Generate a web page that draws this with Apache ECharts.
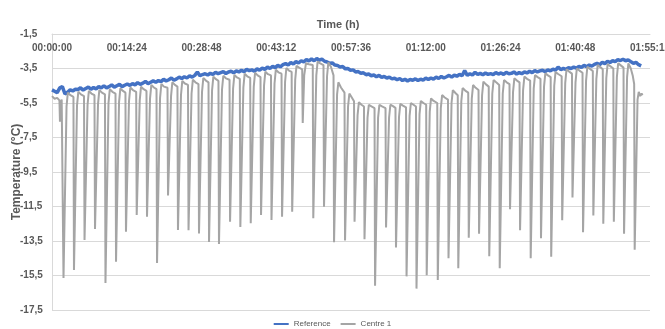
<!DOCTYPE html>
<html>
<head>
<meta charset="utf-8">
<script src="https://cdn.jsdelivr.net/npm/echarts@6/dist/echarts.min.js"></script>
<style>
html,body{margin:0;padding:0;background:#fff;}
#chart{width:665px;height:329px;}
</style>
</head>
<body>
<div id="chart"></div>
<script>
// X axis (seconds) ticks: 00:00:00 .. 01:55:12 every 00:14:24
const xMinSeconds = 0;
const xMaxSeconds = 6912;
const xTickSeconds = 864;
const yTickLabels = [-17.5, -15.5, -13.5, -11.5, -9.5, -7.5, -5.5, -3.5, -1.5];
const seriesNames = ['Reference', 'Centre 1'];

// Reference: one reading every 30 s from 0 s
const refStepSeconds = 30;
const refTemps = [
  -4.74,-4.82,-4.90,-4.62,-4.55,-4.98,-4.88,-4.74,-4.80,-4.70,
  -4.72,-4.62,-4.75,-4.66,-4.58,-4.70,-4.60,-4.68,-4.55,-4.62,
  -4.50,-4.62,-4.55,-4.45,-4.58,-4.50,-4.42,-4.55,-4.47,-4.40,
  -4.48,-4.38,-4.45,-4.32,-4.42,-4.35,-4.25,-4.38,-4.30,-4.22,
  -4.30,-4.20,-4.26,-4.12,-4.22,-4.15,-4.05,-4.18,-4.10,-4.00,
  -4.08,-3.98,-4.05,-3.92,-4.00,-3.90,-3.70,-3.92,-3.85,-3.80,
  -3.88,-3.78,-3.85,-3.72,-3.80,-3.74,-3.68,-3.79,-3.70,-3.66,
  -3.75,-3.64,-3.70,-3.60,-3.68,-3.55,-3.62,-3.58,-3.66,-3.52,
  -3.60,-3.48,-3.55,-3.42,-3.50,-3.38,-3.45,-3.32,-3.40,-3.28,
  -3.22,-3.30,-3.15,-3.24,-3.10,-3.18,-3.05,-3.12,-2.98,-3.06,
  -2.95,-3.05,-2.92,-3.02,-2.96,-3.08,-3.12,-3.20,-3.18,-3.30,
  -3.32,-3.42,-3.38,-3.52,-3.50,-3.60,-3.58,-3.70,-3.68,-3.78,
  -3.75,-3.86,-3.82,-3.92,-3.88,-3.98,-3.90,-4.02,-3.96,-4.05,
  -4.00,-4.10,-4.06,-4.15,-4.08,-4.20,-4.12,-4.22,-4.14,-4.18,
  -4.10,-4.20,-4.12,-4.18,-4.06,-4.14,-4.05,-4.12,-4.00,-4.08,
  -3.96,-4.05,-3.98,-3.90,-4.00,-3.88,-3.95,-3.84,-3.92,-3.62,
  -3.90,-3.80,-3.88,-3.72,-3.85,-3.78,-3.86,-3.76,-3.84,-3.80,
  -3.85,-3.74,-3.82,-3.76,-3.84,-3.72,-3.80,-3.78,-3.70,-3.82,
  -3.74,-3.80,-3.70,-3.76,-3.66,-3.74,-3.62,-3.70,-3.64,-3.60,
  -3.68,-3.58,-3.64,-3.54,-3.60,-3.42,-3.56,-3.50,-3.55,-3.46,
  -3.50,-3.42,-3.48,-3.38,-3.44,-3.32,-3.40,-3.30,-3.36,-3.26,
  -3.20,-3.28,-3.14,-3.22,-3.08,-3.15,-3.05,-3.10,-2.98,-3.04,
  -2.96,-3.05,-3.00,-3.10,-3.20,-3.14,-3.28,-3.35
];

// Centre 1: readings (seconds, °C), one line per cooling cycle
const centreTimes = [
  0,30,60,86,92,100,112,127,
  133,168,183,213,248,
  254,289,304,334,370,
  376,411,426,456,491,
  497,532,547,577,612,
  618,653,668,698,734,
  740,775,790,820,849,
  855,890,905,935,973,
  979,1014,1029,1059,1092,
  1098,1133,1148,1178,1208,
  1214,1249,1264,1294,1335,
  1341,1376,1391,1421,1450,
  1456,1491,1506,1536,1572,
  1578,1613,1628,1658,1693,
  1699,1734,1749,1779,1809,
  1815,1850,1865,1895,1924,
  1930,1965,1980,2010,2052,
  2058,2093,2108,2138,2171,
  2177,2212,2227,2257,2291,
  2297,2332,2347,2377,2410,
  2416,2451,2466,2496,2531,
  2537,2572,2587,2617,2653,
  2659,2694,2709,2739,2770,
  2776,2811,2826,2856,2892,
  2898,2915,2935,2970,3014,
  3020,3055,3070,3100,3138,
  3144,3179,3194,3224,3254,
  3260,3295,3310,3340,3381,
  3387,3422,3437,3467,3491,
  3497,3532,3547,3577,3606,
  3612,3647,3662,3692,3728,
  3734,3769,3784,3814,3855,
  3861,3896,3911,3941,3970,
  3976,4011,4026,4056,4092,
  4098,4133,4148,4178,4207,
  4213,4248,4263,4293,4325,
  4331,4366,4381,4411,4453,
  4459,4494,4509,4539,4577,
  4583,4618,4633,4663,4690,
  4696,4731,4746,4776,4811,
  4817,4852,4867,4897,4930,
  4936,4971,4986,5016,5048,
  5054,5089,5104,5134,5169,
  5175,5210,5225,5255,5288,
  5294,5329,5344,5374,5404,
  5410,5445,5460,5490,5527,
  5533,5568,5583,5613,5646,
  5652,5687,5702,5732,5764,
  5770,5805,5820,5850,5891,
  5897,5932,5947,5977,6010,
  6016,6051,6066,6096,6132,
  6138,6173,6188,6218,6251,
  6257,6292,6307,6337,6366,
  6372,6407,6422,6452,6488,
  6494,6529,6544,6574,6606,
  6612,6647,6662,6690,6712,6729,
  6735,6768,6782,6798,6815,6825
];
const centreTemps = [
  -5.10,-5.25,-5.20,-5.35,-6.58,-5.50,-5.30,-5.40,
  -15.64,-5.70,-4.90,-5.05,-5.15,
  -15.18,-5.65,-4.85,-5.00,-5.10,
  -13.44,-5.60,-4.80,-4.95,-5.05,
  -12.80,-5.55,-4.75,-4.90,-5.00,
  -15.93,-5.50,-4.70,-4.85,-4.95,
  -14.70,-5.45,-4.65,-4.80,-4.90,
  -12.96,-5.40,-4.60,-4.75,-4.85,
  -11.99,-5.35,-4.55,-4.70,-4.80,
  -12.09,-5.25,-4.45,-4.60,-4.70,
  -14.78,-5.20,-4.40,-4.55,-4.62,
  -10.86,-5.10,-4.30,-4.45,-4.55,
  -12.86,-5.02,-4.22,-4.37,-4.45,
  -12.88,-4.95,-4.15,-4.30,-4.40,
  -13.07,-4.85,-4.05,-4.20,-4.30,
  -13.56,-4.77,-3.97,-4.12,-4.22,
  -13.67,-4.72,-3.92,-4.07,-4.15,
  -12.38,-4.67,-3.87,-4.02,-4.10,
  -12.69,-4.60,-3.80,-3.95,-4.05,
  -12.47,-4.55,-3.75,-3.90,-4.00,
  -11.99,-4.48,-3.68,-3.83,-3.90,
  -12.28,-4.37,-3.57,-3.72,-3.80,
  -12.09,-4.27,-3.47,-3.62,-3.70,
  -11.80,-4.15,-3.35,-3.45,-3.55,
  -6.66,-3.90,-3.20,-3.25,-3.30,
  -12.18,-3.90,-3.10,-3.20,-3.30,
  -11.51,-3.95,-3.15,-3.40,-3.90,
  -13.57,-5.00,-4.30,-4.60,-4.90,
  -13.47,-5.70,-4.95,-5.20,-5.40,
  -12.38,-6.20,-5.45,-5.60,-5.70,
  -13.40,-6.35,-5.60,-5.70,-5.80,
  -16.10,-6.35,-5.60,-5.70,-5.80,
  -12.71,-6.35,-5.60,-5.68,-5.78,
  -13.88,-6.30,-5.55,-5.65,-5.75,
  -15.55,-6.25,-5.50,-5.60,-5.70,
  -16.26,-6.15,-5.38,-5.50,-5.60,
  -15.49,-6.00,-5.23,-5.38,-5.50,
  -15.76,-5.80,-5.04,-5.18,-5.30,
  -14.50,-5.50,-4.75,-4.92,-5.05,
  -15.08,-5.40,-4.63,-4.78,-4.90,
  -13.31,-5.25,-4.46,-4.62,-4.75,
  -13.08,-5.05,-4.26,-4.42,-4.55,
  -14.39,-4.95,-4.17,-4.30,-4.45,
  -15.08,-4.95,-4.17,-4.30,-4.40,
  -11.66,-4.85,-4.07,-4.20,-4.30,
  -12.88,-4.75,-3.97,-4.10,-4.20,
  -14.50,-4.65,-3.88,-4.00,-4.10,
  -13.34,-4.55,-3.78,-3.90,-4.00,
  -14.41,-4.50,-3.70,-3.82,-3.95,
  -12.30,-4.35,-3.55,-3.68,-3.80,
  -10.98,-4.30,-3.50,-3.62,-3.75,
  -12.99,-4.20,-3.40,-3.52,-3.65,
  -12.02,-4.10,-3.30,-3.42,-3.55,
  -12.50,-4.05,-3.25,-3.36,-3.50,
  -12.38,-4.00,-3.20,-3.32,-3.45,
  -13.08,-4.00,-3.20,-3.50,-3.90,-4.40,
  -14.01,-5.30,-4.85,-5.10,-4.95,-5.05
];

function fmtTime(s) {
  const h = Math.floor(s / 3600), m = Math.floor((s % 3600) / 60), sec = Math.round(s % 60);
  const p = n => String(n).padStart(2, '0');
  return p(h) + ':' + p(m) + ':' + p(sec);
}

const refData = refTemps.map((v, i) => [i * refStepSeconds, v]);
const centreData = centreTimes.map((t, i) => [t, centreTemps[i]]);

const chart = echarts.init(document.getElementById('chart'), null, {renderer: 'canvas'});
chart.setOption({
  animation: false,
  backgroundColor: '#ffffff',
  title: {
    text: 'Time (h)',
    left: 333,
    top: 14,
    textAlign: 'center',
    textStyle: {fontFamily: 'Liberation Sans', fontSize: 11, fontWeight: 'bold', color: '#595959'}
  },
  legend: {
    data: seriesNames,
    top: 320,
    left: 'center',
    itemWidth: 15,
    itemHeight: 2,
    itemGap: 10,
    icon: 'rect',
    padding: 0,
    textStyle: {fontFamily: 'Liberation Sans', fontSize: 8, color: '#595959'}
  },
  grid: {left: 52, right: 15, top: 34, bottom: 19, containLabel: false, outerBoundsMode: 'none'},
  xAxis: {
    type: 'value',
    position: 'top',
    min: xMinSeconds,
    max: xMaxSeconds,
    interval: xTickSeconds,
    axisLine: {show: true, lineStyle: {color: '#d9d9d9', width: 1}},
    axisTick: {show: false},
    splitLine: {show: false},
    axisLabel: {
      inside: true,
      margin: 9,
      showMinLabel: true,
      showMaxLabel: true,
      hideOverlap: false,
      formatter: v => fmtTime(v),
      fontFamily: 'Liberation Sans',
      fontSize: 10,
      fontWeight: 'bold',
      color: '#595959'
    }
  },
  yAxis: {
    type: 'value',
    min: yTickLabels[0],
    max: yTickLabels[yTickLabels.length - 1],
    interval: 2,
    name: 'Temperature (°C)',
    nameLocation: 'middle',
    nameGap: 29,
    nameMoveOverlap: false,
    nameTextStyle: {fontFamily: 'Liberation Sans', fontSize: 12, fontWeight: 'bold', color: '#595959'},
    axisLine: {show: true, lineStyle: {color: '#d9d9d9', width: 1}},
    axisTick: {show: false},
    splitLine: {show: true, lineStyle: {color: '#d9d9d9', width: 1}},
    axisLabel: {
      align: 'left',
      margin: 32,
      formatter: v => v.toFixed(1).replace('.', ','),
      fontFamily: 'Liberation Sans',
      fontSize: 10,
      fontWeight: 'bold',
      color: '#595959'
    }
  },
  series: [
    {
      name: seriesNames[0],
      type: 'line',
      data: refData,
      showSymbol: false,
      symbol: 'none',
      lineStyle: {color: '#4472C4', width: 3.5},
      itemStyle: {color: '#4472C4'},
      z: 2
    },
    {
      name: seriesNames[1],
      type: 'line',
      data: centreData,
      showSymbol: false,
      symbol: 'none',
      lineStyle: {color: '#A5A5A5', width: 2},
      itemStyle: {color: '#A5A5A5'},
      z: 3
    }
  ]
});
</script>
</body>
</html>
